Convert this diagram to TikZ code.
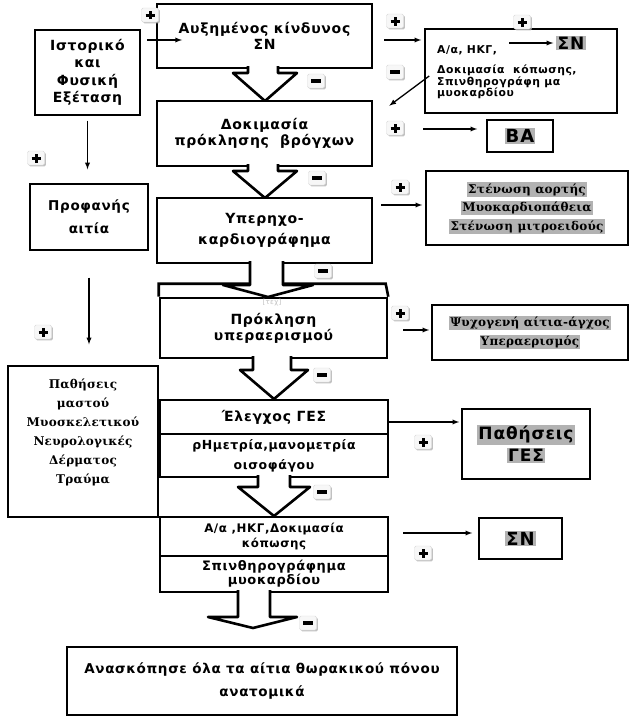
\documentclass[tikz,border=0pt]{standalone}
\usepackage{fontspec}
\setmainfont{DejaVu Sans}[LetterSpace=5.0]
\newfontfamily\grserif{DejaVu Serif}[LetterSpace=2.0]
\usetikzlibrary{positioning, shadows}
\newcommand{\grayhl}[1]{{\setlength{\fboxsep}{1.2pt}\colorbox{black!30}{#1}}}
\newcommand{\plusmark}{\makebox[9pt]{\rule{3pt}{9pt}}\llap{\rule[3pt]{9pt}{3pt}}}
\newcommand{\minusmark}{\rule{10pt}{3.5pt}}
% hollow block arrow: ytop, yshoulder, ytip, shaft left/right, head left/right, tip x
\newcommand{\bigarrow}[8]{%
  \fill[white] (#4,#1) -- (#4,#2) -- (#6,#2) -- (#8,#3) -- (#7,#2) -- (#5,#2) -- (#5,#1) -- cycle;
  \draw[hollow] (#4,#1) -- (#4,#2) -- (#6,#2) -- (#8,#3) -- (#7,#2) -- (#5,#2) -- (#5,#1);
}
\tikzset{
x=1pt, y=-1pt, % grid in points, y runs downwards
>=latex, % filled arrow heads
every node/.style={font=\bfseries, inner sep=0pt},
mainbox/.style={draw, line width=2.6pt, minimum width=215pt, align=center, font=\bfseries\fontsize{14}{16}\selectfont},
sidebox/.style={draw, line width=1.6pt, align=center},
leftbox/.style={draw, line width=1.3pt, align=center, font=\bfseries\fontsize{14}{17.5}\selectfont},
link/.style={->, line width=1.3pt},
hollow/.style={line width=2.6pt, line join=round},
badge/.style={draw=black!15, fill=black!3, rounded corners=1.5pt, minimum width=17pt, minimum height=14pt,
  drop shadow={shadow xshift=1.4pt, shadow yshift=-1.4pt, fill=black!30, opacity=0.8}},
plusbadge/.style={badge},
minusbadge/.style={badge},
}

\begin{document}
\begin{tikzpicture}
  \useasboundingbox (0,0) rectangle (636,728);

  % left column
  \node[leftbox, minimum width=105pt, minimum height=85pt] (hist) at (87.5,72.5) {Ιστορικό\\και\\Φυσική\\Εξέταση};
  \node[leftbox, minimum width=118pt, minimum height=66pt, font=\bfseries\fontsize{13.5}{23}\selectfont] (obv) at (89,217) {Προφανής\\αιτία};
  \node[leftbox, minimum width=150pt, minimum height=151pt] (cond) at (83,441.5) {};
  \node[font=\grserif\bfseries\fontsize{12}{19}\selectfont, align=center] (condtext) at (83,432) {Παθήσεις\\μαστού\\Μυοσκελετικού\\Νευρολογικές\\Δέρματος\\Τραύμα};

  % main column
  \node[mainbox, minimum height=64pt] (risk) at (264.5,36) {Αυξημένος κίνδυνος\\ΣΝ};
  \node[mainbox, minimum height=65pt] (bron) at (264.5,133.5) {Δοκιμασία\\πρόκλησης\ \ βρόγχων};
  \node[mainbox, minimum height=65pt, font=\bfseries\fontsize{14}{21}\selectfont] (echo) at (264.5,230.5) {Υπερηχο-\\καρδιογράφημα};
  \node[mainbox, minimum width=227pt, minimum height=60pt] (hyper) at (273.5,328) {Πρόκληση\\υπεραερισμού};
  \draw[line width=2.6pt] (hyper.north west) -- ++(0,-13) -- ++(227,0) -- (hyper.north east);
  \node[text=black!25, font=\fontsize{7}{7}\selectfont] (ghost) at (272,303) {[τεχ]};
  \node[mainbox, minimum width=228pt, minimum height=34pt] (ges) at (274,417) {Έλεγχος ΓΕΣ};
  \node[mainbox, minimum width=228pt, minimum height=43pt, font=\bfseries\fontsize{12.5}{20}\selectfont] (phm) at (274,455.5) {ρΗμετρία,μανομετρία\\οισοφάγου};
  \node[mainbox, minimum width=228pt, minimum height=39pt, font=\bfseries\fontsize{11.8}{15}\selectfont] (stress) at (274,536.5) {Α/α ,ΗΚΓ,Δοκιμασία\\κόπωσης};
  \node[mainbox, minimum width=228pt, minimum height=36pt, font=\bfseries\fontsize{13}{14}\selectfont] (scint) at (274,574) {Σπινθηρογράφημα\\μυοκαρδίου};
  \node[draw, line width=1.8pt, minimum width=390pt, minimum height=68pt, align=center, font=\bfseries\fontsize{13.5}{23}\selectfont] (review) at (262,681) {Ανασκόπησε όλα τα αίτια θωρακικού πόνου\\ανατομικά};

  % right column
  \node[sidebox, minimum width=192pt, minimum height=84pt] (tests) at (521,71) {};
  \node[anchor=west, font=\bfseries\fontsize{10.8}{11.5}\selectfont] (tests1) at (437,50) {Α/α, ΗΚΓ,};
  \node[anchor=west, align=left, font=\bfseries\fontsize{10.8}{11.5}\selectfont] (tests2) at (437,82) {Δοκιμασία\ \ κόπωσης,\\Σπινθηρογράφη μα\\μυοκαρδίου};
  \node[font=\bfseries\fontsize{17}{17}\selectfont] (sn1) at (571,43) {\grayhl{ΣΝ}};
  \node[sidebox, minimum width=66pt, minimum height=32pt, font=\bfseries\fontsize{18}{18}\selectfont] (ba) at (520,136) {\grayhl{ΒΑ}};
  \node[sidebox, minimum width=202pt, minimum height=74pt, font=\grserif\bfseries\fontsize{12}{18.5}\selectfont] (valve) at (527,208) {\grayhl{Στένωση αορτής}\\\grayhl{Μυοκαρδιοπάθεια}\\\grayhl{Στένωση μιτροειδούς}};
  \node[sidebox, minimum width=196pt, minimum height=55pt, font=\grserif\bfseries\fontsize{12}{19}\selectfont] (psy) at (530,332.5) {\grayhl{Ψυχογενή αίτια-άγχος}\\\grayhl{Υπεραερισμός}};
  \node[sidebox, minimum width=128pt, minimum height=70pt, font=\bfseries\fontsize{17}{22}\selectfont] (gerd) at (526,444) {\grayhl{Παθήσεις}\\\grayhl{ΓΕΣ}};
  \node[sidebox, minimum width=83pt, minimum height=41pt, font=\bfseries\fontsize{18}{18}\selectfont] (sn2) at (520.5,538.5) {\grayhl{ΣΝ}};

  % block arrows down the main column
  \bigarrow{66}{73}{101}{248}{278}{233}{297}{265}
  \bigarrow{164}{171}{198}{248}{278}{233}{297}{265}
  \bigarrow{261}{285}{297}{250}{283}{223}{313}{268}
  \bigarrow{356}{370}{399}{253}{291}{240}{308}{274}
  \bigarrow{475}{487}{516}{258}{290}{238}{310}{274}
  \bigarrow{590}{617}{628}{238}{270}{208}{297}{253}

  % thin arrows
  \coordinate (h1) at (147,40);
  \coordinate (h2) at (182,40);
  \coordinate (ytests) at (0,40);
  \coordinate (yba) at (0,129);
  \coordinate (yvalve) at (0,205);
  \coordinate (ypsy) at (0,330);
  \coordinate (ygerd) at (0,422);
  \coordinate (ysn) at (0,533);
  \draw[link] (h1) -- (h2);
  \draw[link, shorten <=5pt, shorten >=14pt] (hist.south) -- (hist.south |- obv.north);
  \draw[link, shorten <=27pt, shorten >=21pt] (obv.south) -- (obv.south |- cond.north);
  \draw[link, shorten <=11pt, shorten >=3pt] (risk.east |- ytests) -- (tests.west |- ytests);
  \draw[link, shorten >=3pt] ([xshift=-47pt]sn1.west) -- (sn1.west);
  \draw[link] ([xshift=5pt,yshift=-5pt]tests.west) -- ([xshift=16pt,yshift=-6pt]bron.north east);
  \draw[link, shorten <=50pt, shorten >=9pt] (bron.east |- yba) -- (ba.west |- yba);
  \draw[link, shorten <=8pt, shorten >=3pt] (echo.east |- yvalve) -- (valve.west |- yvalve);
  \draw[link, shorten <=15pt, shorten >=2pt] (hyper.east |- ypsy) -- (psy.west |- ypsy);
  \draw[link, shorten >=2pt] (ges.east |- ygerd) -- (gerd.west |- ygerd);
  \draw[link, shorten <=14pt, shorten >=6pt] (stress.east |- ysn) -- (sn2.west |- ysn);

  % plus and minus marks
  \node[plusbadge] (p1) at (150,15) {\plusmark};
  \node[plusbadge] (p2) at (395,21) {\plusmark};
  \node[plusbadge] (p3) at (522,22) {\plusmark};
  \node[plusbadge] (p4) at (395,128) {\plusmark};
  \node[plusbadge] (p5) at (400,187) {\plusmark};
  \node[plusbadge] (p6) at (36,158) {\plusmark};
  \node[plusbadge] (p7) at (43,332) {\plusmark};
  \node[plusbadge] (p8) at (400,313) {\plusmark};
  \node[plusbadge] (p9) at (423,442) {\plusmark};
  \node[plusbadge] (p10) at (423,553) {\plusmark};
  \node[minusbadge] (m1) at (395,72) {\minusmark};
  \node[minusbadge] (m2) at (316,81) {\minusmark};
  \node[minusbadge] (m3) at (317,178) {\minusmark};
  \node[minusbadge] (m4) at (323,271) {\minusmark};
  \node[minusbadge] (m5) at (322,375) {\minusmark};
  \node[minusbadge] (m6) at (322,492) {\minusmark};
  \node[minusbadge] (m7) at (308,623) {\minusmark};
\end{tikzpicture}
\end{document}
